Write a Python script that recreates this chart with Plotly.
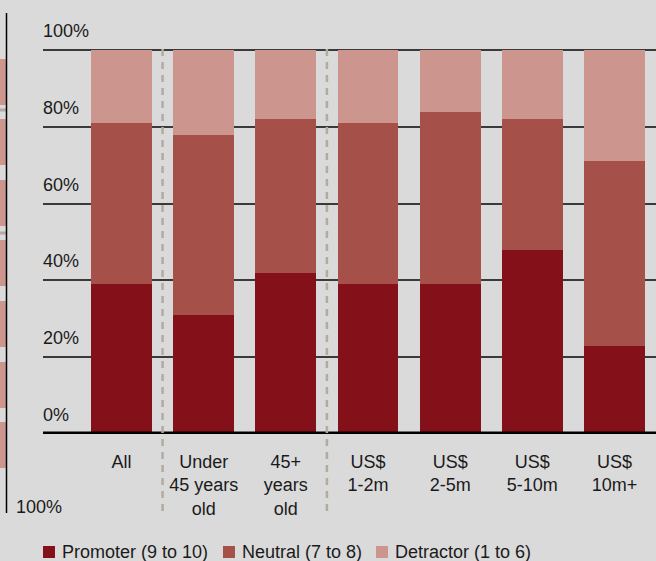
import plotly.graph_objects as go

categories = ["All", "Under<br>45 years<br>old", "45+<br>years<br>old", "US$<br>1-2m",
              "US$<br>2-5m", "US$<br>5-10m", "US$<br>10m+"]
promoter = [39, 31, 42, 39, 39, 48, 23]
neutral = [42, 47, 40, 42, 45, 34, 48]
detractor = [19, 22, 18, 19, 16, 18, 29]
series_names = ["Promoter (9 to 10)", "Neutral (7 to 8)", "Detractor (1 to 6)"]
y_ticks = [0, 20, 40, 60, 80, 100]
y_tick_labels = ["0%", "20%", "40%", "60%", "80%", "100%"]
separators = [0.5, 2.5]

colors = ["#84101a", "#a5514a", "#cc968e"]
BG = "#dadada"
FONT = "Liberation Sans, Arial, Helvetica, sans-serif"
TXT = "#1a1a1a"

W, H = 656, 561
ML, MR, MT, MB = 43, 0, 49, 127
PW = W - ML - MR
PH = H - MT - MB

def px_x(p):
    return (p - ML) / PW

def px_y(p):
    return (H - MB - p) / PH

x = list(range(len(categories)))
fig = go.Figure()
for name, vals, c in zip(series_names, [promoter, neutral, detractor], colors):
    fig.add_trace(go.Bar(x=x, y=vals, name=name, marker=dict(color=c, line=dict(width=0)),
                         width=0.74, hoverinfo="skip", showlegend=False))

shapes = []
# zero baseline
shapes.append(dict(type="line", xref="paper", yref="y", x0=0, x1=1, y0=0, y1=0,
                   line=dict(color="#000000", width=5), layer="above"))
# dashed separators
for s in separators:
    shapes.append(dict(type="line", xref="x", yref="paper", x0=s, x1=s, y0=1, y1=px_y(513),
                       line=dict(color="#b3aaa2", width=2.5, dash="7px,6px"), layer="above"))
# clipped neighbour-chart fragments at the left edge
for top, bot in [(59, 105), (119, 165), (180, 226), (240, 286), (301, 347), (362, 408), (422, 468)]:
    shapes.append(dict(type="rect", xref="paper", yref="paper", x0=px_x(0), x1=px_x(6),
                       y0=px_y(bot), y1=px_y(top), fillcolor=colors[2], line=dict(width=0)))
for gy in [110, 233]:
    shapes.append(dict(type="line", xref="paper", yref="paper", x0=px_x(0), x1=px_x(6),
                       y0=px_y(gy), y1=px_y(gy), line=dict(color="#b3aaa2", width=3)))
shapes.append(dict(type="line", xref="paper", yref="paper", x0=px_x(6.5), x1=px_x(6.5),
                   y0=px_y(513), y1=px_y(13), line=dict(color="#000000", width=1.5)))

annotations = []
for v, t in zip(y_ticks, y_tick_labels):
    annotations.append(dict(x=0, xref="paper", y=v, yref="y", text=t, showarrow=False,
                            xanchor="left", yanchor="middle", yshift=19, xshift=-2,
                            font=dict(size=18, color=TXT, family=FONT)))
annotations.append(dict(x=px_x(14), xref="paper", y=px_y(507), yref="paper", text="100%",
                        showarrow=False, xanchor="left", yanchor="middle",
                        font=dict(size=18, color=TXT, family=FONT)))

# legend (square swatch + label per series)
legend_sq_x = [43, 223, 376]
legend_cy = 552
for name, c, sx in zip(series_names, colors, legend_sq_x):
    shapes.append(dict(type="rect", xref="paper", yref="paper", x0=px_x(sx), x1=px_x(sx + 12),
                       y0=px_y(legend_cy + 6), y1=px_y(legend_cy - 6), fillcolor=c,
                       line=dict(width=0)))
    annotations.append(dict(x=px_x(sx + 17), xref="paper", y=px_y(legend_cy), yref="paper",
                            text=name, showarrow=False, xanchor="left", yanchor="middle",
                            font=dict(size=18, color=TXT, family=FONT)))

fig.update_layout(
    barmode="stack",
    width=W, height=H,
    margin=dict(l=ML, r=MR, t=MT, b=MB, pad=0),
    paper_bgcolor=BG, plot_bgcolor=BG,
    font=dict(family=FONT, size=18, color=TXT),
    shapes=shapes,
    annotations=annotations,
    showlegend=False,
    xaxis=dict(range=[-0.955, 6.505], tickvals=x, ticktext=categories, showgrid=False,
               zeroline=False, showline=False, ticks="", tickfont=dict(size=18, color=TXT),
               ticklabelstandoff=15, fixedrange=True),
    yaxis=dict(range=[0, 100.3], tickvals=y_ticks, showticklabels=False, showgrid=True,
               gridcolor="#3a3a3a", gridwidth=1.5, zeroline=False, showline=False, ticks="",
               fixedrange=True),
)

fig.write_html("out.html", config={"displayModeBar": False},
               post_script="document.body.style.margin='0';document.body.style.overflow='hidden';")
